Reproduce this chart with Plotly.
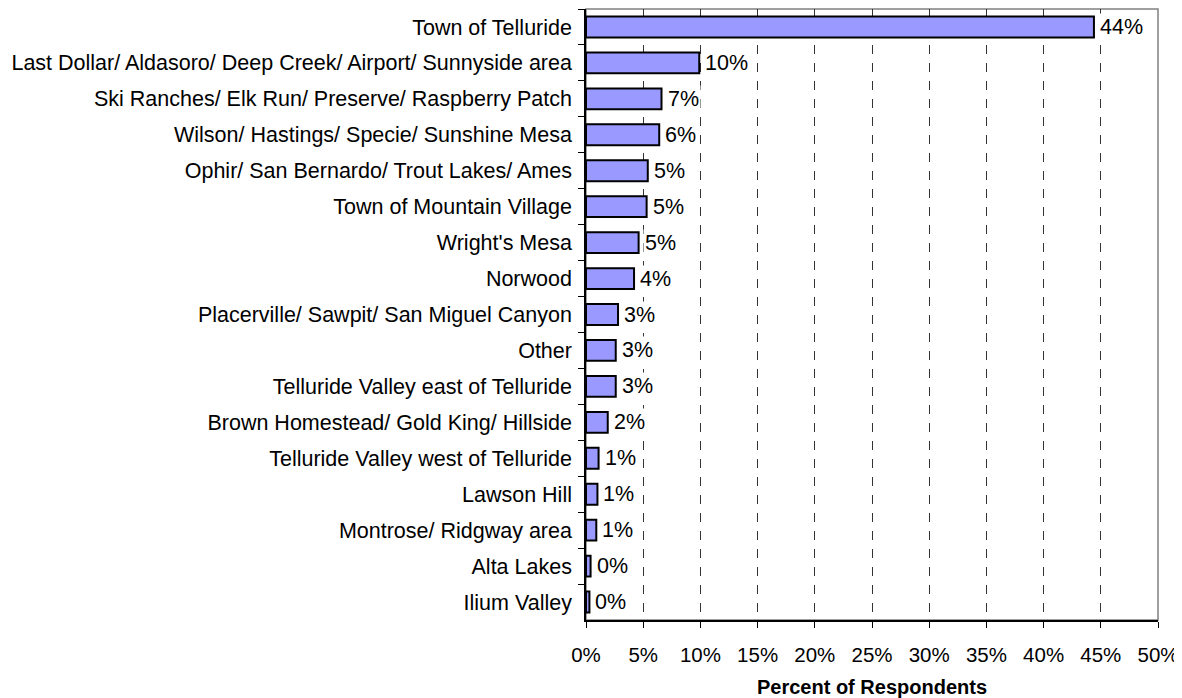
import plotly.graph_objects as go

categories = [
    "Town of Telluride",
    "Last Dollar/ Aldasoro/ Deep Creek/ Airport/ Sunnyside area",
    "Ski Ranches/ Elk Run/ Preserve/ Raspberry Patch",
    "Wilson/ Hastings/ Specie/ Sunshine Mesa",
    "Ophir/ San Bernardo/ Trout Lakes/ Ames",
    "Town of Mountain Village",
    "Wright's Mesa",
    "Norwood",
    "Placerville/ Sawpit/ San Miguel Canyon",
    "Other",
    "Telluride Valley east of Telluride",
    "Brown Homestead/ Gold King/ Hillside",
    "Telluride Valley west of Telluride",
    "Lawson Hill",
    "Montrose/ Ridgway area",
    "Alta Lakes",
    "Ilium Valley",
]
values = [44.4, 9.9, 6.6, 6.4, 5.4, 5.3, 4.6, 4.2, 2.8, 2.6, 2.6, 1.9, 1.1, 1.0, 0.9, 0.4, 0.3]
x_ticks = [0, 5, 10, 15, 20, 25, 30, 35, 40, 45, 50]
x_tick_labels = [f"{t}%" for t in x_ticks]

FONT = "Liberation Sans, Arial, sans-serif"
FS_CAT = 21.5
FS = 20.5

fig = go.Figure()
fig.add_trace(go.Bar(
    x=values, y=categories, orientation="h",
    marker=dict(color="#9999FF", line=dict(color="black", width=2)),
    width=0.58,
    hoverinfo="x+y",
))

for c, v in zip(categories, values):
    fig.add_annotation(
        x=v, y=c, xref="x", yref="y",
        text=f"{round(v)}%", showarrow=False,
        xanchor="left", xshift=4,
        bgcolor="white", borderpad=1,
        font=dict(family=FONT, size=FS_CAT, color="black"),
    )

# plot-area border (gray, top and right)
fig.add_shape(type="rect", xref="paper", yref="paper", x0=0, x1=1, y0=0, y1=1,
              line=dict(color="#808080", width=1.5), layer="below")

fig.update_layout(
    width=1174, height=690,
    margin=dict(l=578, r=24, t=1, b=78),
    paper_bgcolor="white", plot_bgcolor="white",
    showlegend=False,
    font=dict(family=FONT, size=FS, color="black"),
)
fig.update_xaxes(
    range=[0, 50], tickvals=x_ticks, ticktext=x_tick_labels,
    showgrid=True, gridcolor="#333333", griddash="dash", gridwidth=1,
    showline=True, linecolor="black", linewidth=1.5,
    ticks="outside", ticklen=6, tickcolor="black",
    ticklabelstandoff=10,
    zeroline=False,
    title=dict(text="<b>Percent of Respondents</b>", font=dict(family=FONT, size=20), standoff=18),
    tickfont=dict(family=FONT, size=FS),
)
fig.update_yaxes(
    autorange="reversed",
    showline=True, linecolor="black", linewidth=1.5,
    ticks="outside", ticklen=6, tickcolor="black", tickson="boundaries",
    ticklabelstandoff=8,
    showgrid=False,
    tickfont=dict(family=FONT, size=FS_CAT),
)

fig.write_html("out.html")
